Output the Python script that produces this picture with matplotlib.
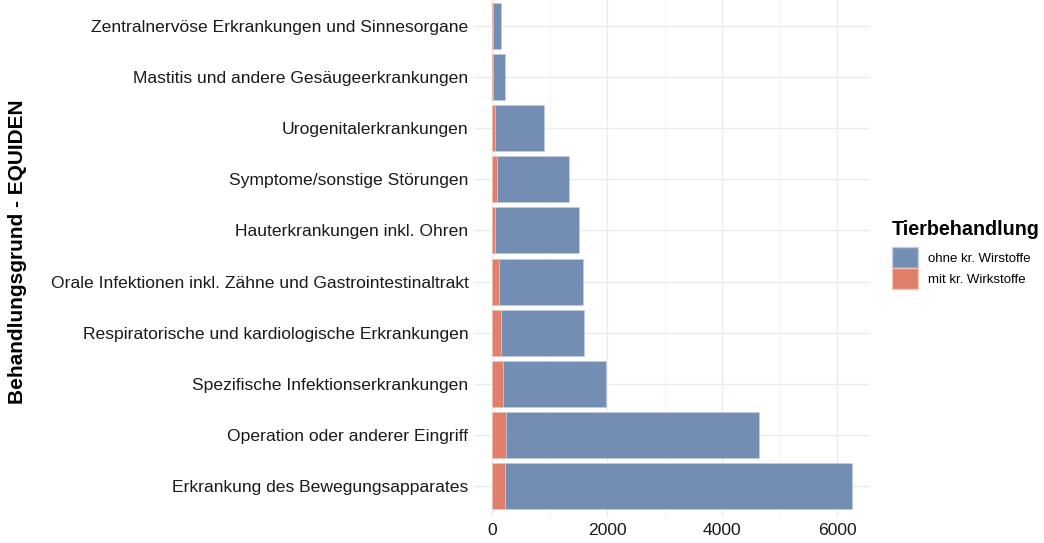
import numpy as np
import matplotlib.pyplot as plt
from matplotlib.patches import Patch
from matplotlib.ticker import MultipleLocator

plt.rcParams['font.family'] = ['Liberation Sans', 'DejaVu Sans']

# categories listed bottom to top
categories = ['Erkrankung des Bewegungsapparates',
              'Operation oder anderer Eingriff',
              'Spezifische Infektionserkrankungen',
              'Respiratorische und kardiologische Erkrankungen',
              'Orale Infektionen inkl. Zähne und Gastrointestinaltrakt',
              'Hauterkrankungen inkl. Ohren',
              'Symptome/sonstige Störungen',
              'Urogenitalerkrankungen',
              'Mastitis und andere Gesäugeerkrankungen',
              'Zentralnervöse Erkrankungen und Sinnesorgane']
mit_kr = [226, 238, 198, 157, 129, 59, 94, 52, 10, 15]
total = [6259, 4635, 1984, 1607, 1590, 1514, 1346, 911, 221, 157]
ohne_kr = [t - m for t, m in zip(total, mit_kr)]

blue = '#748DB2'
red = '#E0806A'

W, H = 1044, 543
fig = plt.figure(figsize=(W / 100, H / 100), dpi=100)
ax = fig.add_axes([474 / W, 1 - 517 / H, (870 - 474) / W, 517 / H])

y = np.arange(len(categories))
ax.barh(y, mit_kr, height=0.9, color=red, edgecolor='#F3C3B7', linewidth=0.4)
ax.barh(y, ohne_kr, left=mit_kr, height=0.9, color=blue, edgecolor='#C4D0E2', linewidth=0.4)

ax.set_xlim(-313, 6572)
ax.set_ylim(-0.6, 9.5)
ax.set_yticks(y)
ax.set_yticklabels(categories, fontsize=12.6, color='#1a1a1a')
ax.set_xticks([0, 2000, 4000, 6000])
ax.set_xticklabels(['0', '2000', '4000', '6000'], fontsize=12.6, color='#1a1a1a')
ax.xaxis.set_minor_locator(MultipleLocator(1000))
ax.tick_params(which='both', length=0, pad=4)
ax.grid(True, which='major', color='#EBEBEB', linewidth=1.0)
ax.grid(True, which='minor', axis='x', color='#F2F2F2', linewidth=0.6)
ax.set_axisbelow(True)
for s in ax.spines.values():
    s.set_visible(False)

fig.text(18 / W, 1 - 252 / H, 'Behandlungsgrund - EQUIDEN', rotation=90,
         fontsize=15, fontweight='bold', ha='center', va='center')

handles = [Patch(facecolor=blue, edgecolor='#C4D0E2', label='ohne kr. Wirstoffe'),
           Patch(facecolor=red, edgecolor='#F3C3B7', label='mit kr. Wirkstoffe')]
leg = fig.legend(handles=handles, title='Tierbehandlung', loc='upper left',
                 bbox_to_anchor=(880 / W, 1 - 208 / H), frameon=False,
                 fontsize=9.5, title_fontproperties={'weight': 'bold', 'size': 14.2},
                 handlelength=1.95, handleheight=2.0, handletextpad=0.8,
                 labelspacing=0.05)
leg._legend_box.align = 'left'
leg._legend_box.sep = 6

fig.savefig('out.png', dpi=100, facecolor='white')
